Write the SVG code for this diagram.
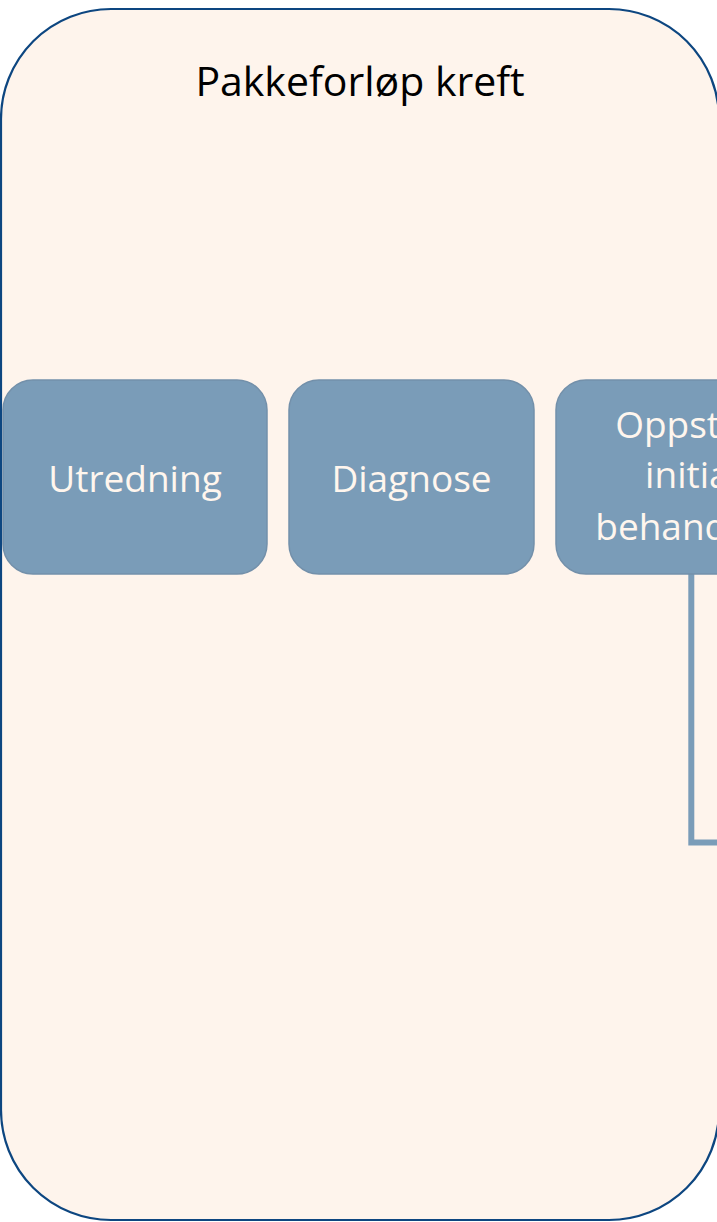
<svg xmlns="http://www.w3.org/2000/svg" width="717" height="1222" viewBox="0 0 717 1222">
<style>
.box{fill:#7A9CB8;stroke:#7390AA;stroke-width:1.5}
.lbl{font-family:"Open Sans","Noto Sans",sans-serif;font-size:37px;fill:#FFF6EE;text-anchor:middle}
.conn{fill:none;stroke:#7A9CB8;stroke-width:6}
</style>
<rect width="717" height="1222" fill="#FFFFFF"/>
<g id="container">
<rect x="1" y="9" width="718" height="1211" rx="110" ry="110" fill="#FEF4EC" stroke="#0D4680" stroke-width="2.2"/>
<text x="360" y="96" font-family="'Open Sans','Noto Sans',sans-serif" font-size="41" fill="#000000" text-anchor="middle">Pakkeforløp kreft</text>
</g>
<g id="connectors">
<polyline class="conn" points="691.3,574 691.3,842.5 725,842.5"/>
</g>
<g id="utredning">
<rect class="box" x="3" y="380" width="264" height="194" rx="30" ry="30"/>
<text class="lbl" x="135" y="492">Utredning</text>
</g>
<g id="diagnose">
<rect class="box" x="289" y="380" width="245" height="194" rx="30" ry="30"/>
<text class="lbl" x="411.5" y="492">Diagnose</text>
</g>
<g id="oppstart">
<rect class="box" x="556" y="380" width="272" height="194" rx="30" ry="30"/>
<text class="lbl" x="692" y="438">Oppstart</text>
<text class="lbl" x="692" y="488">initial</text>
<text class="lbl" x="692" y="540">behandling</text>
</g>
</svg>
